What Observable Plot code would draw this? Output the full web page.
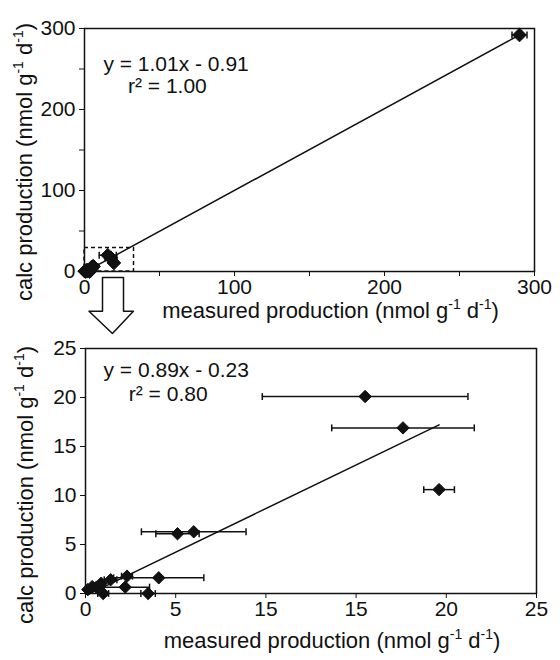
<!DOCTYPE html>
<html><head><meta charset="utf-8">
<script src="https://cdn.jsdelivr.net/npm/d3@7"></script>
<script src="https://cdn.jsdelivr.net/npm/@observablehq/plot@0.6"></script>
<style>
body{margin:0;background:#fff;}
#chart{width:560px;height:660px;position:relative;overflow:hidden;background:#fff}
#chart svg{display:block;overflow:visible}
</style></head><body><div id="chart"></div>
<script>
// ---- data ----
const measured = [0.13, 0.37, 0.61, 0.87, 0.98, 1.39, 2.2, 2.3, 3.47, 4.06, 5.1, 6.0, 15.5, 17.6, 19.6, 290];
const calc     = [0.4, 0.7, 0.65, 1.05, 0.0, 1.4, 0.65, 1.77, 0.0, 1.6, 6.1, 6.3, 20.1, 16.9, 10.6, 292];
const measErr  = [0.1, 0.1, 0.15, 0.15, 0.3, 0.35, 1.35, 0.3, 0.4, 2.5, 1.2, 2.9, 5.7, 3.95, 0.85, 5];

const fitTop    = {slope: 1.01, intercept: -0.91, eq: "y = 1.01x - 0.91", r2: "r\u00B2 = 1.00"};
const fitBottom = {slope: 0.89, intercept: -0.23, eq: "y = 0.89x - 0.23", r2: "r\u00B2 = 0.80"};

const topTicks = [0, 50, 100, 150, 200, 250, 300];
const topTickLabels = ["0", "", "100", "", "200", "", "300"];
const bottomTicks = [0, 5, 10, 15, 20, 25];
const bottomXTickLabels = ["0", "5", "15", "15", "20", "25"];
const bottomYTickLabels = ["0", "5", "10", "15", "20", "25"];

const xTitleParts = ["measured production (nmol g", "-1", " d", "-1", ")"];
const yTitleParts = ["calc production (nmol g", "-1", " d", "-1", ")"];

// zoom region box and arrow (top panel data units)
const zoomBox = [{x1: 0, x2: 33, y1: 0, y2: 29}];
const zoomArrow = [
  {x: 12, y: -7.4}, {x: 26, y: -7.4}, {x: 26, y: -49}, {x: 32.6, y: -49},
  {x: 18.6, y: -76.5}, {x: 3, y: -49}, {x: 12, y: -49}, {x: 12, y: -7.4}
];

// ---- build tables ----
const points = measured.map((m, i) => ({x: m, y: calc[i], lo: m - measErr[i], hi: m + measErr[i]}));
const bottomPoints = points.filter(d => d.x <= 25);

function fitLine(fit, pts) {
  const [a, b] = d3.extent(pts, d => d.x);
  return [a, b].map(x => ({x, y: fit.slope * x + fit.intercept}));
}

const capSymbol = {
  draw(ctx, size) { const h = Math.sqrt(size) / 2; ctx.moveTo(0, -h); ctx.lineTo(0, h); }
};

const font = "'Liberation Sans', Arial, Helvetica, sans-serif";

function errorMarks(pts) {
  return [
    Plot.ruleY(pts, {y: "y", x1: "lo", x2: "hi", stroke: "#111", strokeWidth: 1.5}),
    Plot.dot(pts, {x: "lo", y: "y", symbol: capSymbol, r: 3.9, fill: "none", stroke: "#111", strokeWidth: 1.5}),
    Plot.dot(pts, {x: "hi", y: "y", symbol: capSymbol, r: 3.9, fill: "none", stroke: "#111", strokeWidth: 1.5})
  ];
}

function superscriptTitles(svg, yShift) {
  d3.select(svg).selectAll("text").each(function() {
    const t = this.textContent;
    if (!t.includes("production")) return;
    const isX = t.includes("measured");
    const parts = isX ? xTitleParts : yTitleParts;
    const sel = d3.select(this);
    sel.text(null).attr("font-size", "22px");
    sel.attr("dx", isX ? 21 : -yShift);
    parts.forEach((p, i) => {
      const ts = sel.append("tspan").text(p);
      if (i % 2 === 1) ts.attr("font-size", "14px").attr("dy", "-9");
      else if (i > 0) ts.attr("dy", "9");
    });
  });
}

const topPlot = Plot.plot({
  width: 560, height: 340,
  marginLeft: 84, marginRight: 26, marginTop: 28, marginBottom: 69,
  style: {fontFamily: font, fontSize: "21px", color: "#111", background: "transparent", overflow: "visible"},
  x: {domain: [0, 300], ticks: topTicks, tickFormat: d => topTickLabels[topTicks.indexOf(d)], tickSize: 5, tickPadding: 3,
      label: xTitleParts.join(""), labelAnchor: "center", labelOffset: 46, line: false},
  y: {domain: [0, 300], ticks: topTicks, tickFormat: d => topTickLabels[topTicks.indexOf(d)], tickSize: 5, tickPadding: 4,
      label: yTitleParts.join(""), labelAnchor: "center", labelOffset: 68, line: false},
  marks: [
    Plot.rect(zoomBox, {x1: "x1", x2: "x2", y1: "y1", y2: "y2", fill: "none", stroke: "#111", strokeWidth: 1.5, strokeDasharray: "4,3"}),
    Plot.line(fitLine(fitTop, points), {x: "x", y: "y", stroke: "#111", strokeWidth: 1.5}),
    ...errorMarks(points),
    Plot.dot(points, {x: "x", y: "y", symbol: "diamond2", r: 6.2, fill: "#111", stroke: "#111", strokeWidth: 1}),
    Plot.text([fitTop], {x: 12.6, y: 256, text: "eq", textAnchor: "start", fontSize: 21, fill: "#111"}),
    Plot.text([fitTop], {x: 29, y: 229, text: "r2", textAnchor: "start", fontSize: 21, fill: "#111"}),
    Plot.line(zoomArrow, {x: "x", y: "y", stroke: "#111", strokeWidth: 1.5, clip: false}),
    Plot.frame({stroke: "#111", strokeWidth: 1.5})
  ]
});

const bottomPlot = Plot.plot({
  width: 560, height: 320,
  marginLeft: 85, marginRight: 24, marginTop: 8, marginBottom: 67,
  style: {fontFamily: font, fontSize: "21px", color: "#111", background: "transparent", overflow: "visible"},
  x: {domain: [0, 25], ticks: bottomTicks, tickFormat: d => bottomXTickLabels[bottomTicks.indexOf(d)], tickSize: 5, tickPadding: 3,
      label: xTitleParts.join(""), labelAnchor: "center", labelOffset: 54, line: false},
  y: {domain: [0, 25], ticks: bottomTicks, tickFormat: d => bottomYTickLabels[bottomTicks.indexOf(d)], tickSize: 5, tickPadding: 4,
      label: yTitleParts.join(""), labelAnchor: "center", labelOffset: 68, line: false},
  marks: [
    Plot.line(fitLine(fitBottom, bottomPoints), {x: "x", y: "y", stroke: "#111", strokeWidth: 1.5}),
    ...errorMarks(bottomPoints),
    Plot.dot(bottomPoints, {x: "x", y: "y", symbol: "diamond2", r: 5.6, fill: "#111", stroke: "#111", strokeWidth: 1}),
    Plot.text([fitBottom], {x: 1.0, y: 22.75, text: "eq", textAnchor: "start", fontSize: 21, fill: "#111"}),
    Plot.text([fitBottom], {x: 2.4, y: 20.3, text: "r2", textAnchor: "start", fontSize: 21, fill: "#111"}),
    Plot.frame({stroke: "#111", strokeWidth: 1.5})
  ]
});

superscriptTitles(topPlot, 12);
superscriptTitles(bottomPlot, 14);
const chart = document.getElementById("chart");
chart.append(topPlot, bottomPlot);
</script>
</body></html>
